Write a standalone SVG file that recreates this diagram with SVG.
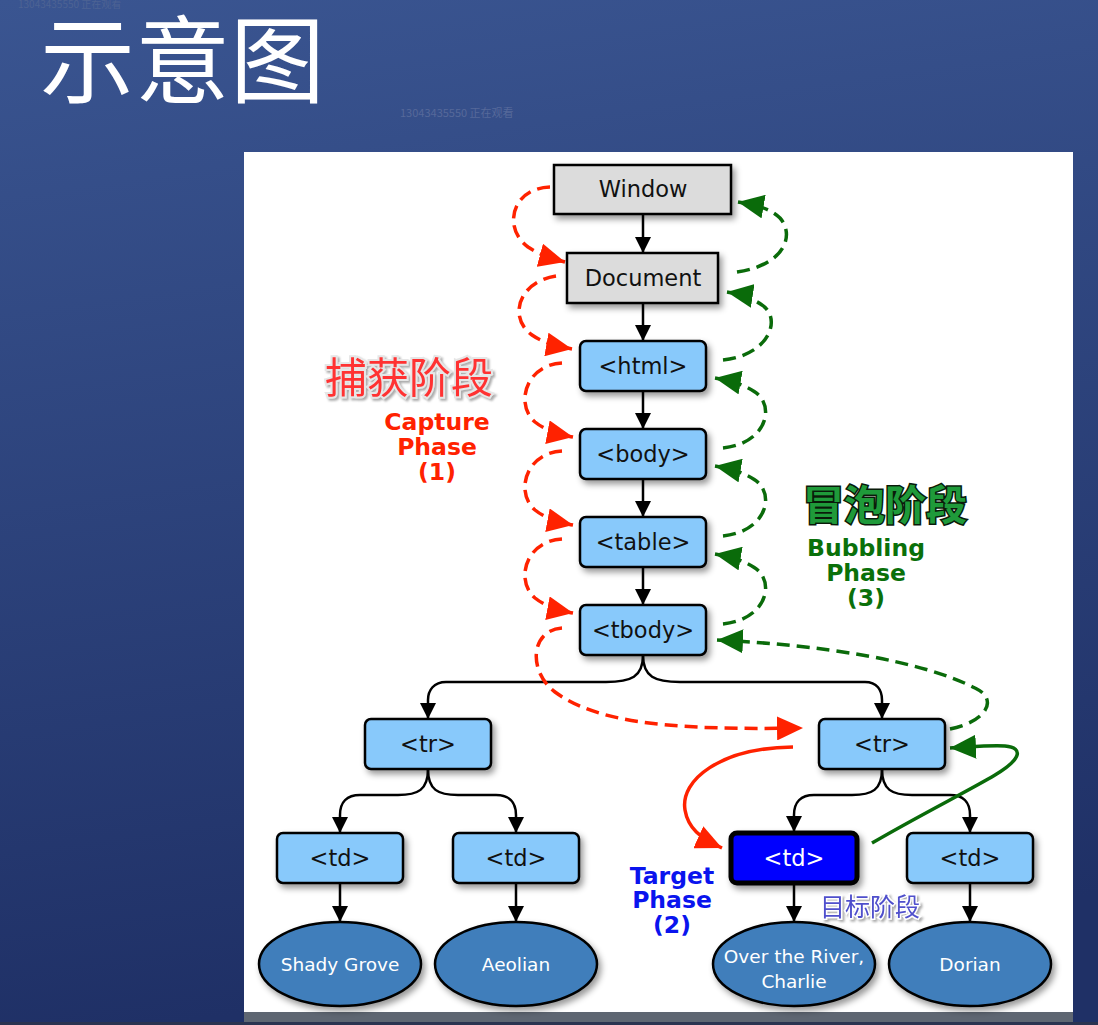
<svg xmlns="http://www.w3.org/2000/svg" width="1098" height="1025" viewBox="0 0 1098 1025">
<defs>
<linearGradient id="bg" x1="0" y1="0" x2="0.15" y2="1">
<stop offset="0" stop-color="#3a5591"/>
<stop offset="1" stop-color="#1f3066"/>
</linearGradient>
<filter id="sh" x="-20%" y="-20%" width="150%" height="160%">
<feDropShadow dx="3" dy="4" stdDeviation="3" flood-color="#000" flood-opacity="0.4"/>
</filter>
<filter id="tsh" x="-10%" y="-20%" width="130%" height="150%">
<feDropShadow dx="2" dy="2" stdDeviation="1" flood-color="#888" flood-opacity="0.7"/>
</filter>
<marker id="ab" markerUnits="userSpaceOnUse" markerWidth="16" markerHeight="16" viewBox="0 0 16 16" refX="16" refY="8" orient="auto"><path d="M0,0 L16,8 L0,16 z" fill="#000"/></marker>
<marker id="ar" markerUnits="userSpaceOnUse" markerWidth="26" markerHeight="24" viewBox="0 0 26 24" refX="26" refY="12" orient="auto"><path d="M0,0 L26,12 L0,24 z" fill="#ff2200"/></marker>
<marker id="ag" markerUnits="userSpaceOnUse" markerWidth="26" markerHeight="24" viewBox="0 0 26 24" refX="26" refY="12" orient="auto"><path d="M0,0 L26,12 L0,24 z" fill="#0a6b0a"/></marker>
</defs>
<style>
.gray{fill:#dcdcdc;stroke:#000;stroke-width:2.5}
.box{fill:#88c9fb;stroke:#000;stroke-width:2.5}
.tgt{fill:#0000ff;stroke:#000;stroke-width:5}
.ell{fill:#3f7ebb;stroke:#000;stroke-width:2.5}
.nt{font-family:"DejaVu Sans",Verdana,sans-serif;font-size:22.5px;fill:#111;text-anchor:middle}
.wt{fill:#fff}
.et{font-family:"DejaVu Sans",Verdana,sans-serif;font-size:18.5px;fill:#fff;text-anchor:middle}
.blk{fill:none;stroke:#000;stroke-width:2.5;marker-end:url(#ab)}
.rd{fill:none;stroke:#ff2200;stroke-width:3.5;stroke-dasharray:13 7;marker-end:url(#ar)}
.rs{fill:none;stroke:#ff2200;stroke-width:3.5;marker-end:url(#ar)}
.gd{fill:none;stroke:#0a6b0a;stroke-width:3.5;stroke-dasharray:13 7;marker-end:url(#ag)}
.gs{fill:none;stroke:#0a6b0a;stroke-width:3.5;marker-end:url(#ag)}
.ph{font-family:"DejaVu Sans",Verdana,sans-serif;font-weight:bold;font-size:23.5px;text-anchor:middle}
.cjk{font-family:"Noto Sans CJK SC","Microsoft YaHei",sans-serif}
</style>
<rect x="0" y="0" width="1098" height="1025" fill="url(#bg)"/>
<text x="18" y="8" class="cjk" font-size="10" fill="#4d6394">13043435550 正在观看</text>
<text x="40" y="96" class="cjk" font-size="95" fill="#fff">示意图</text>
<text x="400" y="117" class="cjk" font-size="11" fill="#56699a">13043435550 正在观看</text>
<rect x="244" y="152" width="829" height="860" fill="#fff"/>
<rect x="244" y="1012" width="829" height="10" fill="#5e6672"/>
<rect x="0" y="1022" width="1098" height="3" fill="#2a3350"/>

<g id="connectors">
<path class="blk" d="M643,214 L643,253"/>
<path class="blk" d="M643,303 L643,341"/>
<path class="blk" d="M643,391 L643,429"/>
<path class="blk" d="M643,479 L643,517"/>
<path class="blk" d="M643,567 L643,605"/>
<path class="blk" d="M643,655 C643,677 631,682 606,682 L446,682 C434,682 428,690 428,700 L428,719"/>
<path class="blk" d="M643,655 C643,677 655,682 680,682 L865,682 C877,682 882,690 882,700 L882,719"/>
<path class="blk" d="M428,769 C428,790 418,795 398,795 L360,795 C347,795 340,802 340,815 L340,833"/>
<path class="blk" d="M428,769 C428,790 438,795 458,795 L496,795 C509,795 516,802 516,815 L516,833"/>
<path class="blk" d="M882,769 C882,790 872,795 852,795 L814,795 C801,795 794,802 794,815 L794,832"/>
<path class="blk" d="M882,769 C882,790 892,795 912,795 L950,795 C963,795 970,802 970,815 L970,833"/>
<path class="blk" d="M340,883 L340,922"/>
<path class="blk" d="M516,883 L516,922"/>
<path class="blk" d="M794,884 L794,922"/>
<path class="blk" d="M970,883 L970,922"/>

<path class="rd" d="M550,187 C512,188 502,228 528,247 C540,255 550,258 565,262"/>
<path class="rd" d="M556,276 C518,282 508,318 532,335 C542,342 555,346 572,349"/>
<path class="rd" d="M562,363 C525,365 515,405 535,422 C545,430 557,434 573,437"/>
<path class="rd" d="M562,451 C525,453 515,493 535,510 C545,518 557,522 573,525"/>
<path class="rd" d="M562,539 C525,541 515,581 535,598 C545,606 557,610 573,613"/>
<path class="rd" d="M562,628 C530,630 528,672 555,692 C600,725 680,730 803,728"/>
<path class="rs" d="M793,747 C720,748 680,780 685,810 C688,828 700,838 722,848"/>

<path class="gd" d="M737,272 C785,265 795,235 780,218 C770,208 755,205 738,202"/>
<path class="gd" d="M723,360 C770,355 782,318 762,305 C752,298 740,294 727,292"/>
<path class="gd" d="M723,448 C768,443 775,405 755,392 C745,385 732,381 715,378"/>
<path class="gd" d="M723,536 C768,531 775,493 755,480 C745,473 732,469 715,466"/>
<path class="gd" d="M723,624 C768,619 775,581 755,568 C745,561 732,557 715,554"/>
<path class="gd" d="M950,729 C985,722 1000,700 975,688 C920,660 820,645 717,640"/>
<path class="gs" d="M872,843 C920,815 970,790 995,775 C1020,760 1025,748 1005,746 C990,745 970,747 950,748"/>
</g>

<g id="window"><rect class="gray" x="554" y="165" width="177" height="49" filter="url(#sh)"/><text class="nt" x="643" y="197">Window</text></g>
<g id="document"><rect class="gray" x="567" y="253" width="151" height="50" filter="url(#sh)"/><text class="nt" x="643" y="286">Document</text></g>
<g id="html"><rect class="box" x="580" y="341" width="126" height="50" rx="6" filter="url(#sh)"/><text class="nt" x="643" y="374">&lt;html&gt;</text></g>
<g id="body"><rect class="box" x="580" y="429" width="126" height="50" rx="6" filter="url(#sh)"/><text class="nt" x="643" y="462">&lt;body&gt;</text></g>
<g id="table"><rect class="box" x="580" y="517" width="126" height="50" rx="6" filter="url(#sh)"/><text class="nt" x="643" y="550">&lt;table&gt;</text></g>
<g id="tbody"><rect class="box" x="580" y="605" width="126" height="50" rx="6" filter="url(#sh)"/><text class="nt" x="643" y="638">&lt;tbody&gt;</text></g>
<g id="tr1"><rect class="box" x="365" y="719" width="126" height="50" rx="6" filter="url(#sh)"/><text class="nt" x="428" y="752">&lt;tr&gt;</text></g>
<g id="tr2"><rect class="box" x="819" y="719" width="126" height="50" rx="6" filter="url(#sh)"/><text class="nt" x="882" y="752">&lt;tr&gt;</text></g>
<g id="td1"><rect class="box" x="277" y="833" width="126" height="50" rx="6" filter="url(#sh)"/><text class="nt" x="340" y="866">&lt;td&gt;</text></g>
<g id="td2"><rect class="box" x="453" y="833" width="126" height="50" rx="6" filter="url(#sh)"/><text class="nt" x="516" y="866">&lt;td&gt;</text></g>
<g id="td3"><rect class="tgt" x="731" y="833" width="126" height="50" rx="6" filter="url(#sh)"/><text class="nt wt" x="794" y="866">&lt;td&gt;</text></g>
<g id="td4"><rect class="box" x="907" y="833" width="126" height="50" rx="6" filter="url(#sh)"/><text class="nt" x="970" y="866">&lt;td&gt;</text></g>
<g id="shady"><ellipse class="ell" cx="340" cy="964" rx="81" ry="42" filter="url(#sh)"/><text class="et" x="340" y="971">Shady Grove</text></g>
<g id="aeolian"><ellipse class="ell" cx="516" cy="964" rx="81" ry="42" filter="url(#sh)"/><text class="et" x="516" y="971">Aeolian</text></g>
<g id="river"><ellipse class="ell" cx="794" cy="964" rx="81" ry="42" filter="url(#sh)"/><text class="et" x="794" y="963">Over the River,</text><text class="et" x="794" y="988">Charlie</text></g>
<g id="dorian"><ellipse class="ell" cx="970" cy="964" rx="81" ry="42" filter="url(#sh)"/><text class="et" x="970" y="971">Dorian</text></g>

<g id="capture-label">
<text x="325" y="393" class="cjk" font-size="42" fill="#ff3333" stroke="#e6e6e6" stroke-width="4" paint-order="stroke" filter="url(#tsh)">捕获阶段</text>
<text class="ph" x="437" y="430" fill="#ff2200">Capture</text>
<text class="ph" x="437" y="455" fill="#ff2200">Phase</text>
<text class="ph" x="437" y="480" fill="#ff2200">(1)</text>
</g>
<g id="bubble-label">
<text x="803" y="520" class="cjk" font-size="41" font-weight="bold" fill="#1f9a3a" stroke="#0a1a0a" stroke-width="3" paint-order="stroke">冒泡阶段</text>
<text class="ph" x="866" y="556" fill="#0a700a">Bubbling</text>
<text class="ph" x="866" y="581" fill="#0a700a">Phase</text>
<text class="ph" x="866" y="606" fill="#0a700a">(3)</text>
</g>
<g id="target-label">
<text class="ph" x="672" y="884" fill="#0a14ee">Target</text>
<text class="ph" x="672" y="908" fill="#0a14ee">Phase</text>
<text class="ph" x="672" y="933" fill="#0a14ee">(2)</text>
<text x="820" y="916" class="cjk" font-size="25" fill="#5050cc" stroke="#fff" stroke-width="3" paint-order="stroke" filter="url(#tsh)">目标阶段</text>
</g>
</svg>
